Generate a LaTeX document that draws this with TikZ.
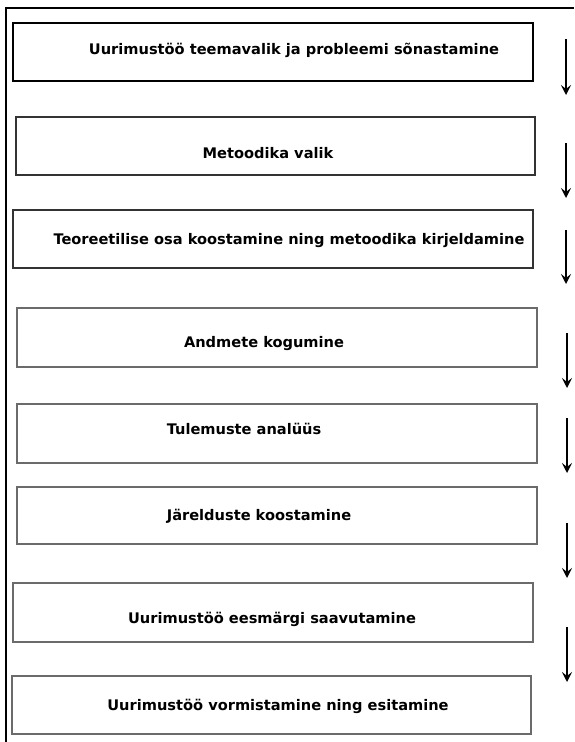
\documentclass[tikz,border=0pt]{standalone}
\usepackage{fontspec}
\setmainfont{DejaVu Sans}
\usetikzlibrary{arrows.meta}

\tikzset{
  stage/.style={draw, rectangle, inner sep=0pt, outer sep=0pt,
    minimum width=520pt, minimum height=58pt},
  firststage/.style={stage, draw=black, line width=1.6pt},
  darkstage/.style={stage, draw=black!80, line width=1.4pt},
  greystage/.style={stage, draw=black!58, line width=1.2pt},
  caption/.style={inner sep=0pt, text height=10.6pt, text depth=0pt,
    font=\bfseries\fontsize{14.6}{17}\selectfont},
  flow/.style={line width=1.9pt, -{Stealth[length=10pt,width=10pt,inset=4pt]}},
  frame/.style={line width=2pt}
}

\begin{document}
\begin{tikzpicture}[x=1pt,y=-1pt]
  \useasboundingbox (0,0) rectangle (574,742);

  % outer frame: top and left edges
  \draw[frame] (574,8) -- (6,8) -- (6,742);

  % stage boxes
  \node[firststage] (b1) at (273,52) {};
  \node[darkstage, minimum width=519pt] (b2) at (275.5,146) {};
  \node[darkstage] (b3) at (273,239) {};
  \node[greystage, minimum height=59pt] (b4) at (277,337.5) {};
  \node[greystage, minimum height=59pt] (b5) at (277,433.5) {};
  \node[greystage, minimum height=57pt] (b6) at (277,515.5) {};
  \node[greystage, minimum height=59pt] (b7) at (273,612.5) {};
  \node[greystage, minimum width=519pt] (b8) at (271.5,705) {};

  % stage titles
  \node[caption] (t1) at (294,49) {Uurimustöö teemavalik ja probleemi sõnastamine};
  \node[caption] (t2) at (268,153) {Metoodika valik};
  \node[caption] (t3) at (289,239) {Teoreetilise osa koostamine ning metoodika kirjeldamine};
  \node[caption] (t4) at (264,342) {Andmete kogumine};
  \node[caption] (t5) at (244,429) {Tulemuste analüüs};
  \node[caption] (t6) at (259,515) {Järelduste koostamine};
  \node[caption] (t7) at (272,618) {Uurimustöö eesmärgi saavutamine};
  \node[caption] (t8) at (278,705) {Uurimustöö vormistamine ning esitamine};

  % sequence arrows along the right side
  \coordinate (a1s) at (566,39);  \coordinate (a1e) at (566,95);
  \coordinate (a2s) at (566,143); \coordinate (a2e) at (566,198);
  \coordinate (a3s) at (566,230); \coordinate (a3e) at (566,284);
  \coordinate (a4s) at (567,333); \coordinate (a4e) at (567,388);
  \coordinate (a5s) at (567,418); \coordinate (a5e) at (567,473);
  \coordinate (a6s) at (567,523); \coordinate (a6e) at (567,578);
  \coordinate (a7s) at (567,627); \coordinate (a7e) at (567,682);
  \foreach \i in {1,...,7}
    \draw[flow] (a\i s) -- (a\i e);
\end{tikzpicture}
\end{document}
